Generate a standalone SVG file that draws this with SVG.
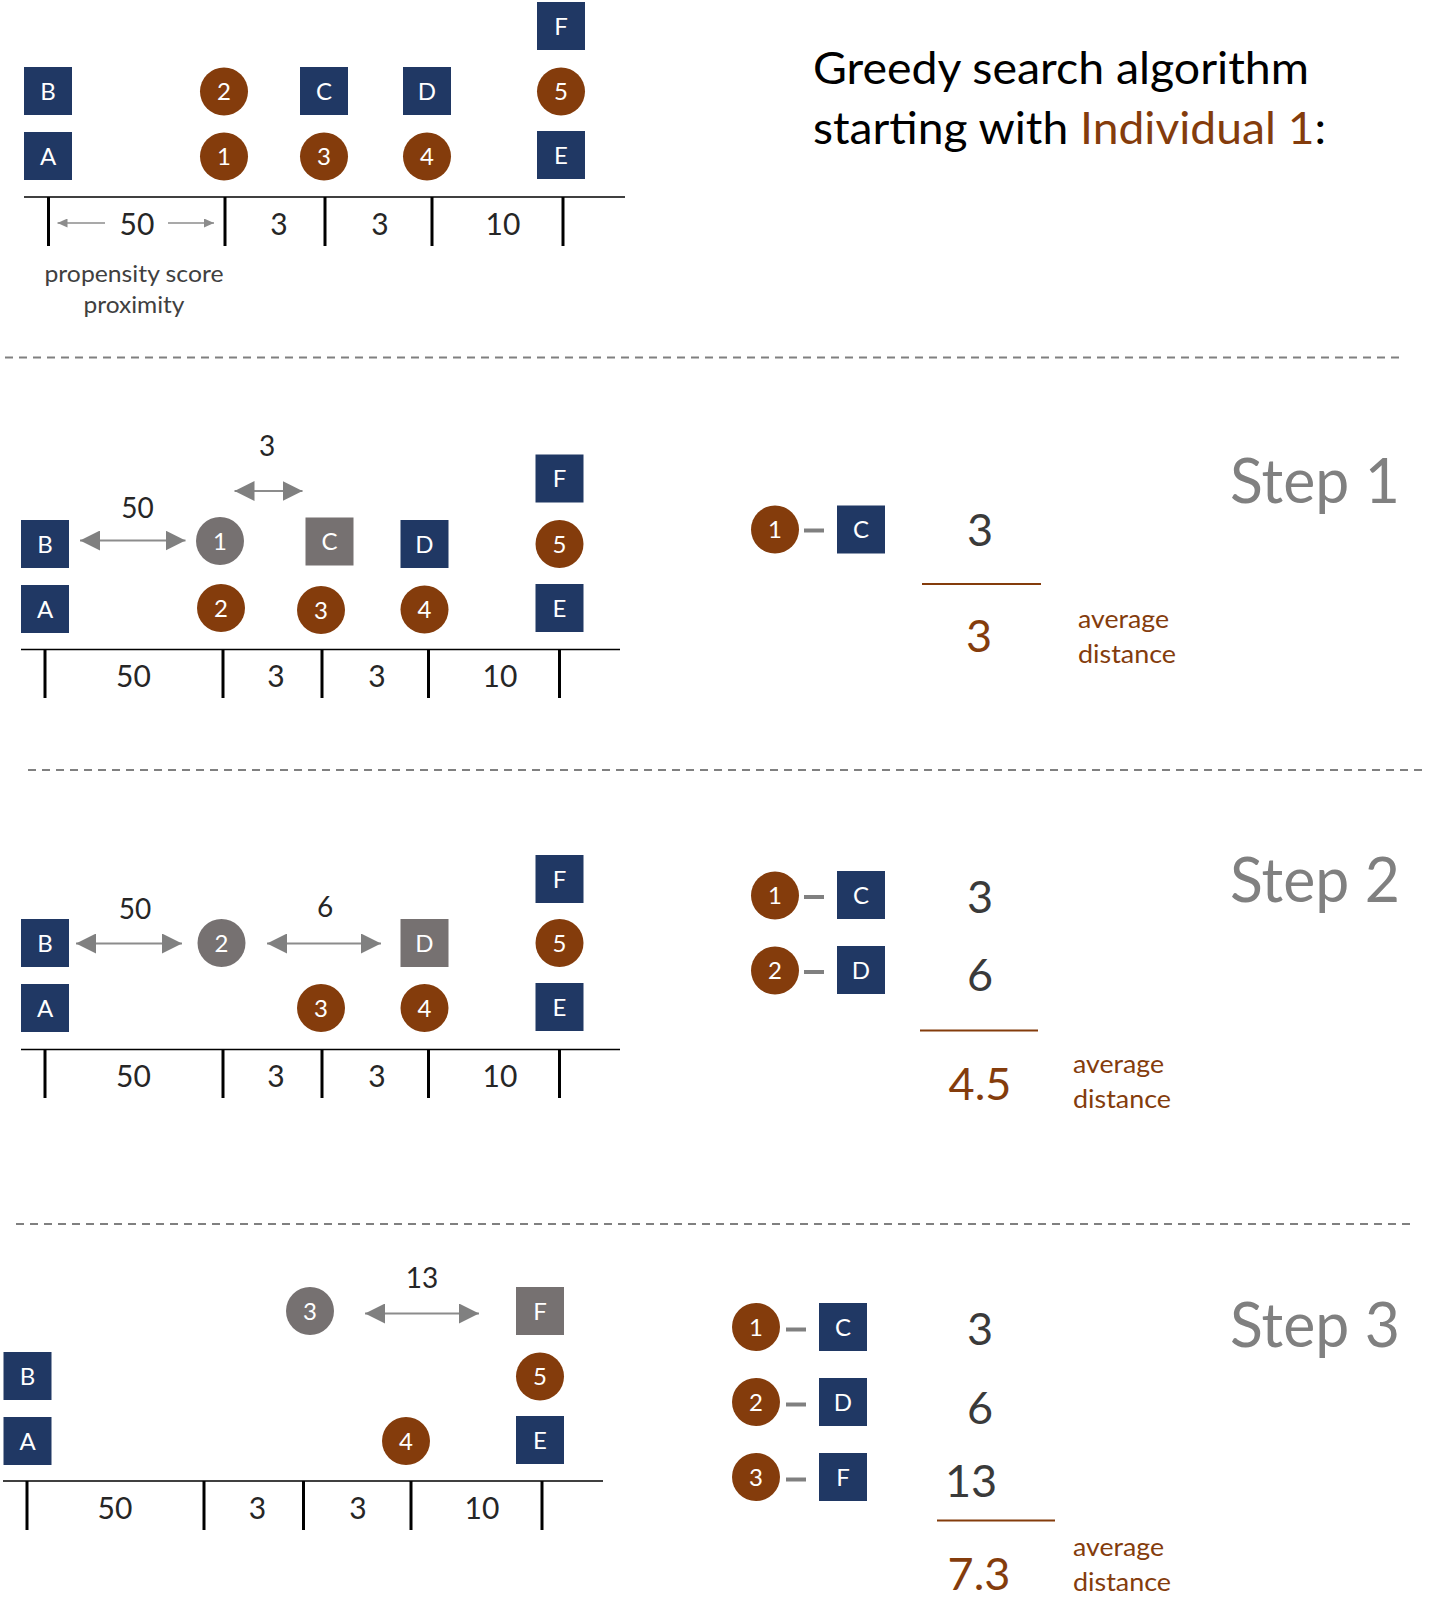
<svg xmlns="http://www.w3.org/2000/svg" width="1442" height="1623" viewBox="0 0 1442 1623">
<defs>
<style>
.sq{fill:#203864}
.ci{fill:#843C0C}
.gs{fill:#767171}
.lb{font-family:"Lato","Open Sans",sans-serif;font-size:24px;fill:#fff;text-anchor:middle}
.ax{stroke:#000;stroke-width:1.5;fill:none}
.tk{stroke:#000;stroke-width:3;fill:none}
.an{font-family:"Lato","Open Sans",sans-serif;font-size:30px;fill:#262626;text-anchor:middle}
.al{font-family:"Lato","Open Sans",sans-serif;font-size:28px;fill:#262626;text-anchor:middle}
.bg{font-family:"Lato","Open Sans",sans-serif;font-size:45px;fill:#3A3A3A;text-anchor:middle}
.br{fill:#843C0C}
.av{font-family:"Lato","Open Sans",sans-serif;font-size:25px;fill:#843C0C}
.st{font-family:"Lato","Open Sans",sans-serif;font-size:61px;fill:#808080}
.dl{stroke:#808080;stroke-width:2;stroke-dasharray:8 6;fill:none}
.ar{stroke:#8C8C8C;stroke-width:2;fill:none;marker-start:url(#ah);marker-end:url(#ah)}
.sa{stroke:#8C8C8C;stroke-width:1.5;fill:none;marker-end:url(#sh)}
.pd{stroke:#808080;stroke-width:4}
.fl{stroke:#843C0C;stroke-width:2}
</style>
<marker id="ah" markerUnits="userSpaceOnUse" markerWidth="20" markerHeight="20" refX="20" refY="10" orient="auto-start-reverse" viewBox="0 0 20 20"><path d="M0,0 L20,10 L0,20 z" fill="#808080"/></marker>
<marker id="sh" markerUnits="userSpaceOnUse" markerWidth="10" markerHeight="9" refX="10" refY="4.5" orient="auto" viewBox="0 0 10 9"><path d="M0,0 L10,4.5 L0,9 z" fill="#8C8C8C"/></marker>
</defs>
<rect width="1442" height="1623" fill="#fff"/>

<!-- Title -->
<g id="title">
<text x="813" y="84" font-family="Lato, 'Open Sans', sans-serif" font-size="44" fill="#000" textLength="496" lengthAdjust="spacingAndGlyphs">Greedy search algorithm</text>
<text x="813" y="144" font-family="Lato, 'Open Sans', sans-serif" font-size="44" fill="#000" textLength="513" lengthAdjust="spacingAndGlyphs">starting with <tspan fill="#843C0C">Individual 1</tspan>:</text>
</g>

<!-- dashed separators -->
<g id="separators">
<line class="dl" x1="5" y1="357.5" x2="1400" y2="357.5"/>
<line class="dl" x1="28" y1="770" x2="1422" y2="770"/>
<line class="dl" x1="16" y1="1224" x2="1410" y2="1224"/>
</g>

<!-- ================= Section 0 ================= -->
<g id="s0-axis">
<line class="ax" x1="24" y1="197" x2="625" y2="197"/>
<line class="tk" x1="48.5" y1="197" x2="48.5" y2="246"/>
<line class="tk" x1="225" y1="197" x2="225" y2="246"/>
<line class="tk" x1="325" y1="197" x2="325" y2="246"/>
<line class="tk" x1="432" y1="197" x2="432" y2="246"/>
<line class="tk" x1="563" y1="197" x2="563" y2="246"/>
<text class="an" x="137" y="235">50</text>
<text class="an" x="279" y="235">3</text>
<text class="an" x="380" y="235">3</text>
<text class="an" x="503" y="235">10</text>
<text x="134" y="282" font-family="Lato, 'Open Sans', sans-serif" font-size="24" fill="#404040" text-anchor="middle" textLength="179" lengthAdjust="spacingAndGlyphs">propensity score</text>
<text x="134" y="313" font-family="Lato, 'Open Sans', sans-serif" font-size="24" fill="#404040" text-anchor="middle" textLength="101" lengthAdjust="spacingAndGlyphs">proximity</text>
</g>
<g id="s0-B"><rect class="sq" x="24" y="67" width="48" height="48"/><text class="lb" x="48" y="99.5">B</text></g>
<g id="s0-A"><rect class="sq" x="24" y="132" width="48" height="48"/><text class="lb" x="48" y="164.5">A</text></g>
<g id="s0-2"><circle class="ci" cx="224" cy="91.5" r="24"/><text class="lb" x="224" y="100">2</text></g>
<g id="s0-1"><circle class="ci" cx="224" cy="156.5" r="24"/><text class="lb" x="224" y="165">1</text></g>
<g id="s0-C"><rect class="sq" x="300" y="67" width="48" height="48"/><text class="lb" x="324" y="99.5">C</text></g>
<g id="s0-3"><circle class="ci" cx="324" cy="156.5" r="24"/><text class="lb" x="324" y="165">3</text></g>
<g id="s0-D"><rect class="sq" x="403" y="67" width="48" height="48"/><text class="lb" x="427" y="99.5">D</text></g>
<g id="s0-4"><circle class="ci" cx="427" cy="156.5" r="24"/><text class="lb" x="427" y="165">4</text></g>
<g id="s0-F"><rect class="sq" x="537" y="2" width="48" height="48"/><text class="lb" x="561" y="34.5">F</text></g>
<g id="s0-5"><circle class="ci" cx="561" cy="91.5" r="24"/><text class="lb" x="561" y="100">5</text></g>
<g id="s0-E"><rect class="sq" x="537" y="131" width="48" height="48"/><text class="lb" x="561" y="163.5">E</text></g>

<g id="s0-connectors">
<line class="sa" x1="105" y1="223" x2="57.5" y2="223"/>
<line class="sa" x1="168" y1="223" x2="214" y2="223"/>
</g>

<!-- ================= Section 1 ================= -->
<g id="s1-axis">
<line class="ax" x1="21" y1="649.5" x2="620" y2="649.5"/>
<line class="tk" x1="45" y1="649.5" x2="45" y2="698"/>
<line class="tk" x1="223" y1="649.5" x2="223" y2="698"/>
<line class="tk" x1="322" y1="649.5" x2="322" y2="698"/>
<line class="tk" x1="428.5" y1="649.5" x2="428.5" y2="698"/>
<line class="tk" x1="559.5" y1="649.5" x2="559.5" y2="698"/>
<text class="an" x="133.5" y="687">50</text>
<text class="an" x="276" y="687">3</text>
<text class="an" x="377" y="687">3</text>
<text class="an" x="500" y="687">10</text>
</g>
<g id="s1-B"><rect class="sq" x="21" y="520" width="48" height="48"/><text class="lb" x="45" y="552.5">B</text></g>
<g id="s1-A"><rect class="sq" x="21" y="585" width="48" height="48"/><text class="lb" x="45" y="617.5">A</text></g>
<g id="s1-1"><circle class="gs" cx="220" cy="541" r="24"/><text class="lb" x="220" y="549.5">1</text></g>
<g id="s1-2"><circle class="ci" cx="221" cy="608" r="24"/><text class="lb" x="221" y="616.5">2</text></g>
<g id="s1-C"><rect class="gs" x="305.5" y="517.5" width="48" height="48"/><text class="lb" x="329.5" y="550">C</text></g>
<g id="s1-3"><circle class="ci" cx="321" cy="610" r="24"/><text class="lb" x="321" y="618.5">3</text></g>
<g id="s1-D"><rect class="sq" x="400.5" y="520" width="48" height="48"/><text class="lb" x="424.5" y="552.5">D</text></g>
<g id="s1-4"><circle class="ci" cx="424.5" cy="609.5" r="24"/><text class="lb" x="424.5" y="618">4</text></g>
<g id="s1-F"><rect class="sq" x="535.5" y="454.5" width="48" height="48"/><text class="lb" x="559.5" y="487">F</text></g>
<g id="s1-5"><circle class="ci" cx="559.5" cy="544" r="24"/><text class="lb" x="559.5" y="552.5">5</text></g>
<g id="s1-E"><rect class="sq" x="535.5" y="584" width="48" height="48"/><text class="lb" x="559.5" y="616.5">E</text></g>
<g id="s1-connectors">
<line class="ar" x1="80" y1="540.5" x2="185.5" y2="540.5"/>
<line class="ar" x1="234.5" y1="491" x2="302.5" y2="491"/>
<text class="al" x="137.5" y="518">50</text>
<text class="al" x="267" y="456">3</text>
</g>

<g id="step1">
<text class="st" x="1230" y="503" textLength="170" lengthAdjust="spacingAndGlyphs">Step 1</text>
</g>
<g id="p1-1"><circle class="ci" cx="775" cy="529.5" r="24"/><text class="lb" x="775" y="538">1</text></g>
<g id="p1-C"><rect class="sq" x="837" y="505.5" width="48" height="48"/><text class="lb" x="861" y="538">C</text></g>
<g id="p1-connectors"><line class="pd" x1="804" y1="530.5" x2="824" y2="530.5"/></g>
<g id="p1-calc">
<text class="bg" x="980" y="546">3</text>
<line class="fl" x1="922" y1="584" x2="1041" y2="584"/>
<text class="bg br" x="979" y="652">3</text>
<text class="av" x="1078" y="628" textLength="91" lengthAdjust="spacingAndGlyphs">average</text>
<text class="av" x="1078" y="663" textLength="98" lengthAdjust="spacingAndGlyphs">distance</text>
</g>

<!-- ================= Section 2 ================= -->
<g id="s2-axis">
<line class="ax" x1="21" y1="1049.5" x2="620" y2="1049.5"/>
<line class="tk" x1="45" y1="1049.5" x2="45" y2="1098"/>
<line class="tk" x1="223" y1="1049.5" x2="223" y2="1098"/>
<line class="tk" x1="322" y1="1049.5" x2="322" y2="1098"/>
<line class="tk" x1="428.5" y1="1049.5" x2="428.5" y2="1098"/>
<line class="tk" x1="559.5" y1="1049.5" x2="559.5" y2="1098"/>
<text class="an" x="133.5" y="1087">50</text>
<text class="an" x="276" y="1087">3</text>
<text class="an" x="377" y="1087">3</text>
<text class="an" x="500" y="1087">10</text>
</g>
<g id="s2-B"><rect class="sq" x="21" y="919" width="48" height="48"/><text class="lb" x="45" y="951.5">B</text></g>
<g id="s2-A"><rect class="sq" x="21" y="984" width="48" height="48"/><text class="lb" x="45" y="1016.5">A</text></g>
<g id="s2-2"><circle class="gs" cx="221.5" cy="943" r="24"/><text class="lb" x="221.5" y="951.5">2</text></g>
<g id="s2-D"><rect class="gs" x="400.5" y="919" width="48" height="48"/><text class="lb" x="424.5" y="951.5">D</text></g>
<g id="s2-3"><circle class="ci" cx="321" cy="1008" r="24"/><text class="lb" x="321" y="1016.5">3</text></g>
<g id="s2-4"><circle class="ci" cx="424.5" cy="1008" r="24"/><text class="lb" x="424.5" y="1016.5">4</text></g>
<g id="s2-F"><rect class="sq" x="535.5" y="855" width="48" height="48"/><text class="lb" x="559.5" y="887.5">F</text></g>
<g id="s2-5"><circle class="ci" cx="559.5" cy="943" r="24"/><text class="lb" x="559.5" y="951.5">5</text></g>
<g id="s2-E"><rect class="sq" x="535.5" y="983" width="48" height="48"/><text class="lb" x="559.5" y="1015.5">E</text></g>
<g id="s2-connectors">
<line class="ar" x1="76" y1="943.5" x2="182" y2="943.5"/>
<line class="ar" x1="267" y1="943.5" x2="381" y2="943.5"/>
<text class="al" x="135" y="919">50</text>
<text class="al" x="325" y="917">6</text>
</g>

<g id="step2">
<text class="st" x="1230" y="902" textLength="170" lengthAdjust="spacingAndGlyphs">Step 2</text>
</g>
<g id="p2-1"><circle class="ci" cx="775" cy="895.5" r="24"/><text class="lb" x="775" y="904">1</text></g>
<g id="p2-C"><rect class="sq" x="837" y="871" width="48" height="48"/><text class="lb" x="861" y="903.5">C</text></g>
<g id="p2-2"><circle class="ci" cx="775" cy="970.5" r="24"/><text class="lb" x="775" y="979">2</text></g>
<g id="p2-D"><rect class="sq" x="837" y="946" width="48" height="48"/><text class="lb" x="861" y="978.5">D</text></g>
<g id="p2-connectors">
<line class="pd" x1="804" y1="897" x2="824" y2="897"/>
<line class="pd" x1="804" y1="972" x2="824" y2="972"/>
</g>
<g id="p2-calc">
<text class="bg" x="980" y="913">3</text>
<text class="bg" x="980" y="991">6</text>
<line class="fl" x1="920" y1="1030.5" x2="1038" y2="1030.5"/>
<text class="bg br" x="980" y="1100">4.5</text>
<text class="av" x="1073" y="1073" textLength="91" lengthAdjust="spacingAndGlyphs">average</text>
<text class="av" x="1073" y="1108" textLength="98" lengthAdjust="spacingAndGlyphs">distance</text>
</g>

<!-- ================= Section 3 ================= -->
<g id="s3-axis">
<line class="ax" x1="3" y1="1481" x2="603" y2="1481"/>
<line class="tk" x1="27" y1="1481" x2="27" y2="1530"/>
<line class="tk" x1="204" y1="1481" x2="204" y2="1530"/>
<line class="tk" x1="303.5" y1="1481" x2="303.5" y2="1530"/>
<line class="tk" x1="411" y1="1481" x2="411" y2="1530"/>
<line class="tk" x1="542" y1="1481" x2="542" y2="1530"/>
<text class="an" x="115" y="1519">50</text>
<text class="an" x="257.5" y="1519">3</text>
<text class="an" x="358" y="1519">3</text>
<text class="an" x="482" y="1519">10</text>
</g>
<g id="s3-B"><rect class="sq" x="3.5" y="1352" width="48" height="48"/><text class="lb" x="27.5" y="1384.5">B</text></g>
<g id="s3-A"><rect class="sq" x="3.5" y="1417" width="48" height="48"/><text class="lb" x="27.5" y="1449.5">A</text></g>
<g id="s3-3"><circle class="gs" cx="310" cy="1311" r="24"/><text class="lb" x="310" y="1319.5">3</text></g>
<g id="s3-4"><circle class="ci" cx="406" cy="1441" r="24"/><text class="lb" x="406" y="1449.5">4</text></g>
<g id="s3-F"><rect class="gs" x="516" y="1287" width="48" height="48"/><text class="lb" x="540" y="1319.5">F</text></g>
<g id="s3-5"><circle class="ci" cx="540" cy="1376.5" r="24"/><text class="lb" x="540" y="1385">5</text></g>
<g id="s3-E"><rect class="sq" x="516" y="1416" width="48" height="48"/><text class="lb" x="540" y="1448.5">E</text></g>
<g id="s3-connectors">
<line class="ar" x1="365" y1="1313.5" x2="479" y2="1313.5"/>
<text class="al" x="422" y="1288">13</text>
</g>

<g id="step3">
<text class="st" x="1230" y="1347" textLength="170" lengthAdjust="spacingAndGlyphs">Step 3</text>
</g>
<g id="p3-1"><circle class="ci" cx="756" cy="1327" r="24"/><text class="lb" x="756" y="1335.5">1</text></g>
<g id="p3-C"><rect class="sq" x="819" y="1303" width="48" height="48"/><text class="lb" x="843" y="1335.5">C</text></g>
<g id="p3-2"><circle class="ci" cx="756" cy="1402" r="24"/><text class="lb" x="756" y="1410.5">2</text></g>
<g id="p3-D"><rect class="sq" x="819" y="1378" width="48" height="48"/><text class="lb" x="843" y="1410.5">D</text></g>
<g id="p3-3"><circle class="ci" cx="756" cy="1477" r="24"/><text class="lb" x="756" y="1485.5">3</text></g>
<g id="p3-F"><rect class="sq" x="819" y="1453" width="48" height="48"/><text class="lb" x="843" y="1485.5">F</text></g>
<g id="p3-connectors">
<line class="pd" x1="786" y1="1329.5" x2="806" y2="1329.5"/>
<line class="pd" x1="786" y1="1404.5" x2="806" y2="1404.5"/>
<line class="pd" x1="786" y1="1479.5" x2="806" y2="1479.5"/>
</g>
<g id="p3-calc">
<text class="bg" x="980" y="1345">3</text>
<text class="bg" x="980" y="1424">6</text>
<text class="bg" x="971" y="1497">13</text>
<line class="fl" x1="937" y1="1520.5" x2="1055" y2="1520.5"/>
<text class="bg br" x="979" y="1590">7.3</text>
<text class="av" x="1073" y="1556" textLength="91" lengthAdjust="spacingAndGlyphs">average</text>
<text class="av" x="1073" y="1591" textLength="98" lengthAdjust="spacingAndGlyphs">distance</text>
</g>
</svg>
